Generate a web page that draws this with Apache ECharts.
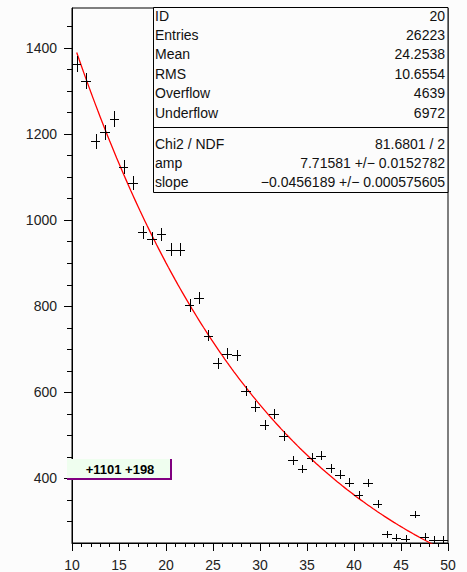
<!DOCTYPE html>
<html>
<head>
<meta charset="utf-8">
<script src="https://cdn.jsdelivr.net/npm/echarts@6/dist/echarts.min.js"></script>
<style>
html,body{margin:0;padding:0;background:#fcfcfc;}
#chart{width:467px;height:572px;}
</style>
</head>
<body>
<div id="chart"></div>
<script>
// ---- data ----
const binCenters = [10.5,11.5,12.5,13.5,14.5,15.5,16.5,17.5,18.5,19.5,
                    20.5,21.5,22.5,23.5,24.5,25.5,26.5,27.5,28.5,29.5,
                    30.5,31.5,32.5,33.5,34.5,35.5,36.5,37.5,38.5,39.5,
                    40.5,41.5,42.5,43.5,44.5,45.5,46.5,47.5,48.5,49.5];
const binValues = [1363,1324,1183,1204,1235,1123,1086,972,957,967,
                   931,931,802,820,732,668,690,686,603,567,
                   525,549,498,442,422,448,453,424,409,390,
                   361,389,340,270,262,260,316,264,258,258];
const fitAmp = 7.71581;
const fitSlope = -0.0456189;
const yMajorTicks = [400,600,800,1000,1200,1400];
const statsLabels = ['ID','Entries','Mean','RMS','Overflow','Underflow'];
const statsValues = ['20','26223','24.2538','10.6554','4639','6972'];
const fitLabels = ['Chi2 / NDF','amp','slope'];
const fitValues = ['81.6801 / 2','7.71581 +/\u2212 0.0152782','\u22120.0456189 +/\u2212 0.000575605'];
const boxText = '+1101 +198';

// ---- build series data ----
const crossData = binCenters.map((x,i)=>[x, binValues[i], Math.sqrt(binValues[i])/2]);
const fitCurve = [];
for (let x = binCenters[0]; x <= 50.0001; x += 0.25) {
  fitCurve.push([x, Math.exp(fitAmp + fitSlope * x)]);
}

const FONT = '"Liberation Sans", Arial, Helvetica, sans-serif';
const chart = echarts.init(document.getElementById('chart'), null, {renderer:'svg'});

const graphics = [];
// stats box
graphics.push({type:'rect', shape:{x:153.5,y:7.5,width:294.5,height:185}, style:{fill:'#fcfcfc',stroke:'#000',lineWidth:1}, z:10});
graphics.push({type:'line', shape:{x1:153.5,y1:127.5,x2:448,y2:127.5}, style:{stroke:'#000',lineWidth:1}, z:11});
statsLabels.forEach((t,i)=>{
  const y = 15.5 + i*19.4;
  graphics.push({type:'text', x:155, y:y, style:{text:t, fill:'#111', font:'14px '+FONT, textAlign:'left', textVerticalAlign:'middle'}, z:12});
  graphics.push({type:'text', x:445, y:y, style:{text:statsValues[i], fill:'#111', font:'14px '+FONT, textAlign:'right', textVerticalAlign:'middle'}, z:12});
});
fitLabels.forEach((t,i)=>{
  const y = 143.5 + i*19.2;
  graphics.push({type:'text', x:155, y:y, style:{text:t, fill:'#111', font:'14px '+FONT, textAlign:'left', textVerticalAlign:'middle'}, z:12});
  graphics.push({type:'text', x:445, y:y, style:{text:fitValues[i], fill:'#111', font:'14px '+FONT, textAlign:'right', textVerticalAlign:'middle'}, z:12});
});
// green label box
graphics.push({type:'rect', shape:{x:67,y:459,width:104,height:20}, style:{fill:'#effeef'}, z:10});
graphics.push({type:'line', shape:{x1:67,y1:479,x2:172,y2:479}, style:{stroke:'#800080',lineWidth:2}, z:11});
graphics.push({type:'line', shape:{x1:171,y1:459,x2:171,y2:480}, style:{stroke:'#800080',lineWidth:2}, z:11});
graphics.push({type:'text', x:120, y:469.5, style:{text:boxText, fill:'#000', font:'bold 13px '+FONT, textAlign:'center', textVerticalAlign:'middle'}, z:12});

chart.setOption({
  animation:false,
  backgroundColor:'#fcfcfc',
  grid:{left:72, right:19, top:8, bottom:29, show:true, borderColor:'#000', borderWidth:1, backgroundColor:'#fcfcfc', containLabel:false},
  xAxis:{type:'value', min:10, max:50, interval:5,
    axisLine:{show:true, onZero:false, lineStyle:{color:'#000', width:1}},
    axisTick:{show:true, inside:false, length:8, lineStyle:{color:'#000'}},
    minorTick:{show:true, splitNumber:5, length:4, lineStyle:{color:'#000'}},
    splitLine:{show:false},
    axisLabel:{color:'#222', fontSize:14, fontFamily:FONT, margin:15}
  },
  yAxis:[
    {type:'value', min:250, max:1493, interval:50, position:'left',
      axisLine:{show:true, onZero:false, lineStyle:{color:'#000', width:1}},
      axisTick:{show:true, inside:false, length:5, lineStyle:{color:'#000'}},
      axisLabel:{show:true, color:'#222', fontSize:14, fontFamily:FONT, margin:15,
        showMinLabel:false, showMaxLabel:false,
        formatter:function(v){ return (v % 200 === 0) ? String(v) : ''; }},
      splitLine:{show:false}
    },
    {type:'value', min:250, max:1493, position:'left', offset:0,
      axisLine:{show:false},
      axisTick:{show:true, inside:false, length:8, customValues:yMajorTicks, lineStyle:{color:'#000'}},
      axisLabel:{show:false},
      splitLine:{show:false}
    }
  ],
  series:[
    {type:'line', data:fitCurve, showSymbol:false, symbol:'none', smooth:false, clip:true,
      lineStyle:{color:'#ff0000', width:1.3}, z:3, silent:true},
    {type:'custom', data:crossData, clip:true, z:4,
      renderItem:function(params, api){
        const x = api.value(0), y = api.value(1), e = api.value(2);
        const l = api.coord([x-0.5, y]), r = api.coord([x+0.5, y]);
        const t = api.coord([x, y+e]), b = api.coord([x, y-e]);
        const cx = Math.round(l[0] + (r[0]-l[0])/2) + 0.5;
        const cy = Math.round(l[1]) + 0.5;
        return {type:'group', children:[
          {type:'line', shape:{x1:Math.round(l[0]), y1:cy, x2:Math.round(r[0]), y2:cy}, style:{stroke:'#000', lineWidth:1}},
          {type:'line', shape:{x1:cx, y1:Math.round(t[1]), x2:cx, y2:Math.round(b[1])}, style:{stroke:'#000', lineWidth:1}}
        ]};
      }
    }
  ],
  graphic:graphics
});
</script>
</body>
</html>
